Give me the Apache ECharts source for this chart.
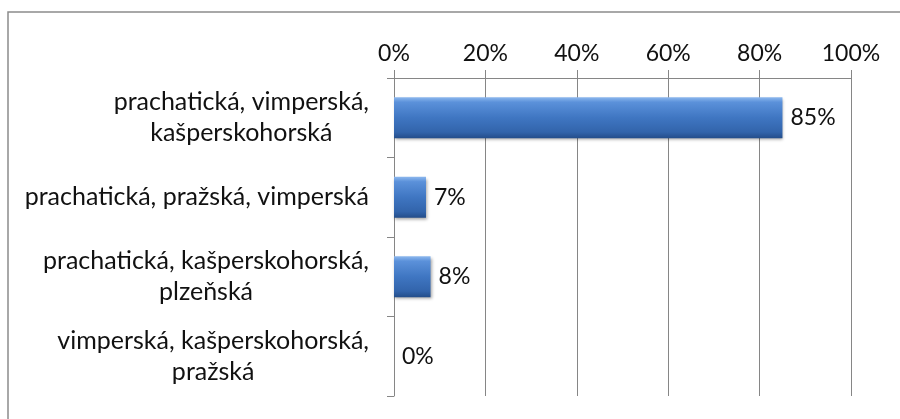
<!DOCTYPE html>
<html>
<head>
<meta charset="utf-8">
<script src="https://cdn.jsdelivr.net/npm/echarts@6/dist/echarts.min.js"></script>
<style>html,body{margin:0;padding:0;background:#fff}#c{width:900px;height:419px}</style>
</head>
<body>
<div id="c"></div>
<script>
const categories = [
  "prachatická, vimperská,\nkašperskohorská",
  "prachatická, pražská, vimperská",
  "prachatická, kašperskohorská,\nplzeňská",
  "vimperská, kašperskohorská,\npražská"
];
const values = [85, 7, 8, 0];
const tickLabels = ["0%", "20%", "40%", "60%", "80%", "100%"];

const FONT = "Lato, 'Open Sans', sans-serif";
const chart = echarts.init(document.getElementById('c'), null, {renderer: 'canvas'});
chart.setOption({
  animation: false,
  backgroundColor: '#fff',
  grid: {left: 394, right: 49, top: 78, bottom: 23, containLabel: false},
  graphic: [
    {type: 'polyline', shape: {points: [[8, 419], [8, 12], [900, 12]]}, style: {stroke: '#8c8c8c', lineWidth: 1.5, fill: null}, silent: true}
  ],
  xAxis: {
    type: 'value', position: 'top', min: 0, max: 100, interval: 20,
    axisLine: {show: true, lineStyle: {color: '#868686', width: 1}},
    axisTick: {show: true, inside: false, length: 8, lineStyle: {color: '#868686'}},
    splitLine: {show: true, lineStyle: {color: '#868686', width: 1}},
    axisLabel: {
      margin: 13, fontSize: 23, color: '#111', fontFamily: FONT,
      formatter: v => tickLabels[Math.round(v / 20)]
    }
  },
  yAxis: {
    type: 'category', inverse: true, data: categories,
    axisLine: {show: true, lineStyle: {color: '#868686', width: 1}},
    axisTick: {show: true, length: 7, alignWithLabel: false, lineStyle: {color: '#868686'}},
    splitLine: {show: false},
    axisLabel: {
      margin: 25, color: '#111', fontSize: 25, fontFamily: FONT, align: 'right',
      formatter: v => v.split('\n').map(s => '{c|' + s + '}').join('\n'),
      rich: {c: {align: 'center', fontSize: 25, fontFamily: FONT, color: '#111', lineHeight: 31}}
    }
  },
  series: [{
    type: 'bar', data: values, barWidth: 41,
    itemStyle: {
      color: new echarts.graphic.LinearGradient(0, 0, 0, 1, [
        {offset: 0, color: '#8db8ee'},
        {offset: 0.12, color: '#5b91da'},
        {offset: 0.5, color: '#3f76c2'},
        {offset: 0.85, color: '#3264ab'},
        {offset: 1, color: '#234d8a'}
      ]),
      borderWidth: 0,
      shadowColor: 'rgba(0,0,0,0.35)', shadowBlur: 3, shadowOffsetX: 1, shadowOffsetY: 2
    },
    label: {
      show: true, position: 'right', distance: 8, fontSize: 23, fontFamily: FONT, color: '#111',
      formatter: p => p.value + '%'
    }
  }]
});
</script>
</body>
</html>
